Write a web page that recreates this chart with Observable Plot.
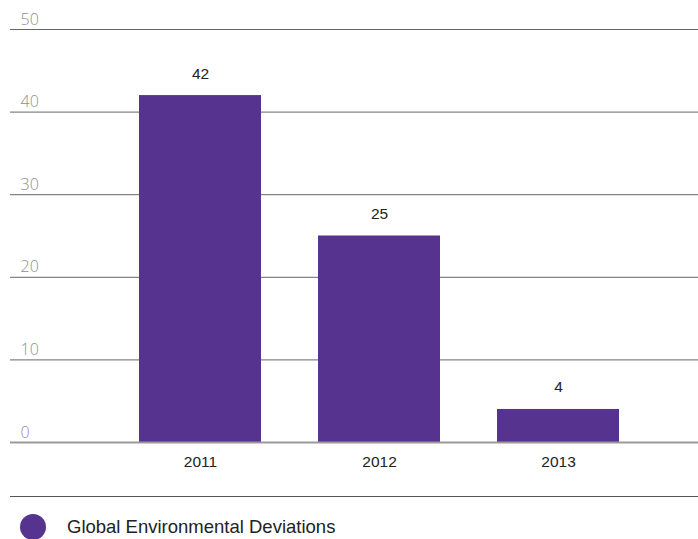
<!DOCTYPE html>
<html>
<head>
<meta charset="utf-8">
<script src="https://cdn.jsdelivr.net/npm/d3@7"></script>
<script src="https://cdn.jsdelivr.net/npm/@observablehq/plot@0.6"></script>
<style>
  html, body { margin: 0; padding: 0; background: #fff; overflow: hidden; }
  #legend { margin-left: 10px; border-top: 1px solid #555; padding-top: 17px; display: flex; align-items: center; font-family: "Liberation Sans", Arial, sans-serif; font-size: 18.5px; color: #222; }
  #legend .dot { width: 26px; height: 26px; border-radius: 50%; background: #55338f; margin-left: 10px; margin-right: 21px; }
</style>
</head>
<body>
<div id="chart"></div>
<div id="legend"><div class="dot"></div><span>Global Environmental Deviations</span></div>
<script>
const years = ["2011", "2012", "2013"];
const values = [42, 25, 4];
const yTicks = [0, 10, 20, 30, 40, 50];
const seriesName = "Global Environmental Deviations";

const data = years.map((y, i) => ({year: y, value: values[i]}));
const barColor = "#55338f";

const chart = Plot.plot({
  width: 698,
  height: 496,
  marginLeft: 10,
  marginRight: 0,
  marginTop: 29,
  marginBottom: 54,
  style: {fontFamily: "'Liberation Sans', Arial, sans-serif", background: "#fff"},
  x: {domain: years, range: [138, 619], paddingInner: 0.32, paddingOuter: 0, axis: null},
  y: {domain: [0, 50], axis: null},
  marks: [
    Plot.ruleY(yTicks.filter(d => d > 0), {stroke: "#666", strokeWidth: 1, strokeOpacity: 1}),
    Plot.barY(data, {x: "year", y: "value", fill: barColor}),
    Plot.ruleY([0], {stroke: "#999", strokeWidth: 2}),
    Plot.text(yTicks, {y: d => d, frameAnchor: "left", dx: 10, dy: -5, textAnchor: "start", lineAnchor: "bottom", text: d => String(d), fill: "#909090", fontSize: 16, fontWeight: 300, fontFamily: "'Open Sans', sans-serif"}),
    Plot.text(data, {x: "year", y: "value", dy: -22, text: d => String(d.value), fill: "#222", fontSize: 15.5}),
    Plot.text(data, {x: "year", y: () => 0, dy: 20, text: "year", fill: "#222", fontSize: 15.5})
  ]
});
document.getElementById("chart").appendChild(chart);
</script>
</body>
</html>
